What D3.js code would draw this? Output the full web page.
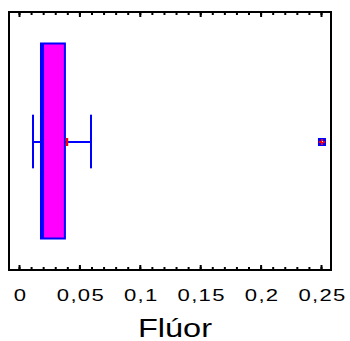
<!DOCTYPE html>
<html>
<head>
<meta charset="utf-8">
<script src="https://cdn.jsdelivr.net/npm/d3@7"></script>
<style>
  body { margin: 0; background: #fff; }
  svg { display: block; }
</style>
</head>
<body>
<svg id="chart" width="350" height="341"></svg>
<script>
// Box plot summary for Flúor
const variable = 'Flúor';
const boxStats = { min: 0.0116, q1: 0.0182, median: 0.0199, q3: 0.038, max: 0.0596 };
const meanValue = 0.0397;
const outliers = [0.2508];
const majorTicks = [0, 0.05, 0.1, 0.15, 0.2, 0.25];
const tickLabels = ['0', '0,05', '0,1', '0,15', '0,2', '0,25'];
const minorTicks = d3.range(0, 26).map(i => i / 100);

const svg = d3.select('#chart');
const frame = { left: 9, right: 331, top: 12, bottom: 270 };

// Scales
const x = d3.scaleLinear().domain([0, 0.25]).range([19, 321]);
const y = d3.scaleBand().domain([variable]).range([frame.top, frame.bottom]).paddingInner(0).paddingOuter(0.1615);
const cy = y(variable) + y.bandwidth() / 2 + 1;
const capHalf = y.bandwidth() * 0.135;

// Frame
svg.append('rect')
  .attr('x', frame.left)
  .attr('y', frame.top)
  .attr('width', frame.right - frame.left)
  .attr('height', frame.bottom - frame.top)
  .attr('fill', 'none')
  .attr('stroke', '#000')
  .attr('stroke-width', 2);

// Inward ticks, bottom and top
function tickAxis(axisFn, yPos, values, size) {
  const g = svg.append('g')
    .attr('transform', `translate(0,${yPos})`)
    .call(axisFn(x).tickValues(values).tickSize(size).tickFormat(''));
  g.select('.domain').remove();
  g.selectAll('line').attr('stroke', '#000').attr('stroke-width', 2);
}
tickAxis(d3.axisTop, frame.bottom, minorTicks, 3);
tickAxis(d3.axisTop, frame.bottom, majorTicks, 5);
tickAxis(d3.axisBottom, frame.top, minorTicks, 3);
tickAxis(d3.axisBottom, frame.top, majorTicks, 5);

// Tick labels
const labelAxis = svg.append('g')
  .attr('transform', `translate(0,${frame.bottom})`)
  .call(d3.axisBottom(x).tickValues(majorTicks).tickSize(0).tickFormat((d, i) => tickLabels[i]));
labelAxis.select('.domain').remove();
labelAxis.selectAll('.tick text')
  .attr('y', 0)
  .attr('dy', 0)
  .attr('transform', 'translate(1,31) scale(1.3,1)')
  .attr('font-family', 'Liberation Sans, Arial, sans-serif')
  .attr('font-size', 17)
  .attr('letter-spacing', 1)
  .attr('fill', '#000');

// Axis title
svg.append('text')
  .attr('transform', `translate(${(x(0) + x(0.25)) / 2 + 5},337) scale(1.25,1)`)
  .attr('text-anchor', 'middle')
  .attr('font-family', 'Liberation Sans, Arial, sans-serif')
  .attr('font-size', 26)
  .attr('fill', '#000')
  .text(variable);

// Whiskers
const blue = '#0000ff';
const plot = svg.append('g');
plot.append('line')
  .attr('x1', x(boxStats.min)).attr('x2', x(boxStats.q1))
  .attr('y1', cy).attr('y2', cy)
  .attr('stroke', blue).attr('stroke-width', 2);
plot.append('line')
  .attr('x1', x(boxStats.q3)).attr('x2', x(boxStats.max))
  .attr('y1', cy).attr('y2', cy)
  .attr('stroke', blue).attr('stroke-width', 2);
[boxStats.min, boxStats.max].forEach(v => {
  plot.append('line')
    .attr('x1', x(v)).attr('x2', x(v))
    .attr('y1', cy - capHalf - 1).attr('y2', cy + capHalf)
    .attr('stroke', blue).attr('stroke-width', 2);
});

// Box
plot.append('rect')
  .attr('x', x(boxStats.q1))
  .attr('y', y(variable))
  .attr('width', x(boxStats.q3) - x(boxStats.q1))
  .attr('height', y.bandwidth())
  .attr('fill', '#ff00ff')
  .attr('stroke', blue)
  .attr('stroke-width', 2);
plot.append('line')
  .attr('x1', x(boxStats.median)).attr('x2', x(boxStats.median))
  .attr('y1', y(variable)).attr('y2', y(variable) + y.bandwidth())
  .attr('stroke', blue).attr('stroke-width', 2);

// Mean marker (only the part outside the box shows)
plot.append('line')
  .attr('x1', x(meanValue)).attr('x2', x(meanValue))
  .attr('y1', cy - 4).attr('y2', cy + 4)
  .attr('stroke', '#ff0000').attr('stroke-width', 2.5);

// Outliers
const out = plot.selectAll('.outlier')
  .data(outliers)
  .join('g')
  .attr('transform', d => `translate(${x(d)},${cy})`);
out.append('rect')
  .attr('x', -4).attr('y', -4).attr('width', 8).attr('height', 8)
  .attr('fill', blue);
out.append('line')
  .attr('x1', -3).attr('x2', 3).attr('y1', 0).attr('y2', 0)
  .attr('stroke', '#ff0000').attr('stroke-width', 2);
out.append('line')
  .attr('x1', 0).attr('x2', 0).attr('y1', -3).attr('y2', 3)
  .attr('stroke', '#ff0000').attr('stroke-width', 2);
out.append('rect')
  .attr('x', 0).attr('y', -1).attr('width', 1).attr('height', 1)
  .attr('fill', '#fff');
</script>
</body>
</html>
